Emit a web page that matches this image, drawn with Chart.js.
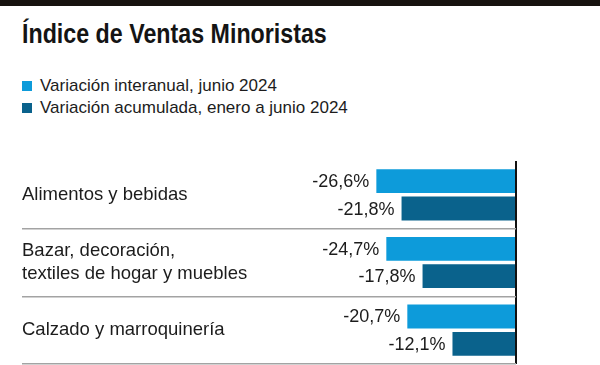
<!DOCTYPE html>
<html lang="es">
<head>
<meta charset="utf-8">
<script src="https://cdn.jsdelivr.net/npm/chart.js@4/dist/chart.umd.min.js"></script>
<style>
  html, body { margin: 0; padding: 0; background: #fff; }
  #wrap { position: relative; width: 600px; height: 365px; overflow: hidden; }
  #topbar { position: absolute; left: 0; top: 0; width: 600px; height: 6px; background: #17130f; }
  #title {
    position: absolute; left: 22px; top: 18px; margin: 0;
    font-family: "Liberation Sans", Arial, sans-serif;
    font-weight: bold; font-size: 28px; color: #141414; white-space: nowrap;
    transform: scaleX(0.83); transform-origin: left top;
  }
  #legend { position: absolute; left: 22px; top: 75px; font-family: "Liberation Sans", Arial, sans-serif; font-size: 17px; color: #1c1c1c; }
  .item { display: flex; align-items: center; height: 22px; white-space: nowrap; }
  .sw { width: 10px; height: 10px; margin-right: 8px; }
  #chart { position: absolute; left: 0; top: 0; }
</style>
</head>
<body>
<div id="wrap">
  <div id="topbar"></div>
  <h1 id="title">Índice de Ventas Minoristas</h1>
  <div id="legend"></div>
  <canvas id="chart" width="600" height="365"></canvas>
</div>
<script>
// data
const categories = [
    "Alimentos y bebidas",
    ["Bazar, decoración,", "textiles de hogar y muebles"],
    "Calzado y marroquinería",
];
const seriesNames = [
    "Variación interanual, junio 2024",
    "Variación acumulada, enero a junio 2024",
];
const interanual = [-26.6, -24.7, -20.7];
const acumulada = [-21.8, -17.8, -12.1];
const seriesColors = ["#0d9bda", "#0a628c"];

const FONT = "'Liberation Sans', Arial, sans-serif";

// HTML legend
const legendEl = document.getElementById("legend");
seriesNames.forEach((name, i) => {
    const row = document.createElement("div");
    row.className = "item";
    row.innerHTML = `<span class="sw" style="background:${seriesColors[i]}"></span><span>${name}</span>`;
    legendEl.appendChild(row);
});

const fmt = (v) => v.toFixed(1).replace(".", ",") + "%";

// value labels left of each bar
const valueLabels = {
    id: "valueLabels",
    afterDatasetsDraw(chart) {
        const { ctx } = chart;
        ctx.save();
        ctx.font = "18px " + FONT;
        ctx.fillStyle = "#1c1c1c";
        ctx.textAlign = "right";
        ctx.textBaseline = "middle";
        chart.data.datasets.forEach((ds, di) => {
            chart.getDatasetMeta(di).data.forEach((bar, i) => {
                ctx.fillText(fmt(ds.data[i]), bar.x - 7, bar.y + 1);
            });
        });
        ctx.restore();
    },
};

new Chart(document.getElementById("chart"), {
    type: "bar",
    data: {
        labels: categories,
        datasets: [
            { label: seriesNames[0], data: interanual, backgroundColor: seriesColors[0] },
            { label: seriesNames[1], data: acumulada, backgroundColor: seriesColors[1] },
        ],
    },
    options: {
        indexAxis: "y",
        responsive: false,
        animation: false,
        devicePixelRatio: 1,
        categoryPercentage: 0.81,
        barPercentage: 0.87,
        layout: { padding: { top: 161, left: 22, right: 84, bottom: 1 } },
        plugins: { legend: { display: false }, tooltip: { enabled: false } },
        scales: {
            x: {
                min: -40,
                max: 0,
                afterFit: (scale) => { scale.height = 0; },
                ticks: { display: false, stepSize: 10 },
                border: { display: false },
                grid: {
                    drawTicks: false,
                    lineWidth: 2,
                    color: (c) => (c.tick && c.tick.value === 0 ? "#111" : "rgba(0,0,0,0)"),
                },
            },
            y: {
                border: { display: false },
                afterFit: (scale) => {
                    scale.width = 284;
                    // labels sit mid-band, no extra room needed at the ends
                    scale.paddingTop = 0;
                    scale.paddingBottom = 0;
                },
                grid: {
                    offset: true,
                    tickLength: 284,
                    lineWidth: 1.5,
                    color: (c) => (c.index === 0 ? "rgba(0,0,0,0)" : "#a3a3a3"),
                },
                ticks: {
                    crossAlign: "far",
                    color: "#1c1c1c",
                    font: { family: FONT, size: 18.5, lineHeight: 1.28 },
                },
            },
        },
    },
    plugins: [valueLabels],
});
</script>
</body>
</html>
